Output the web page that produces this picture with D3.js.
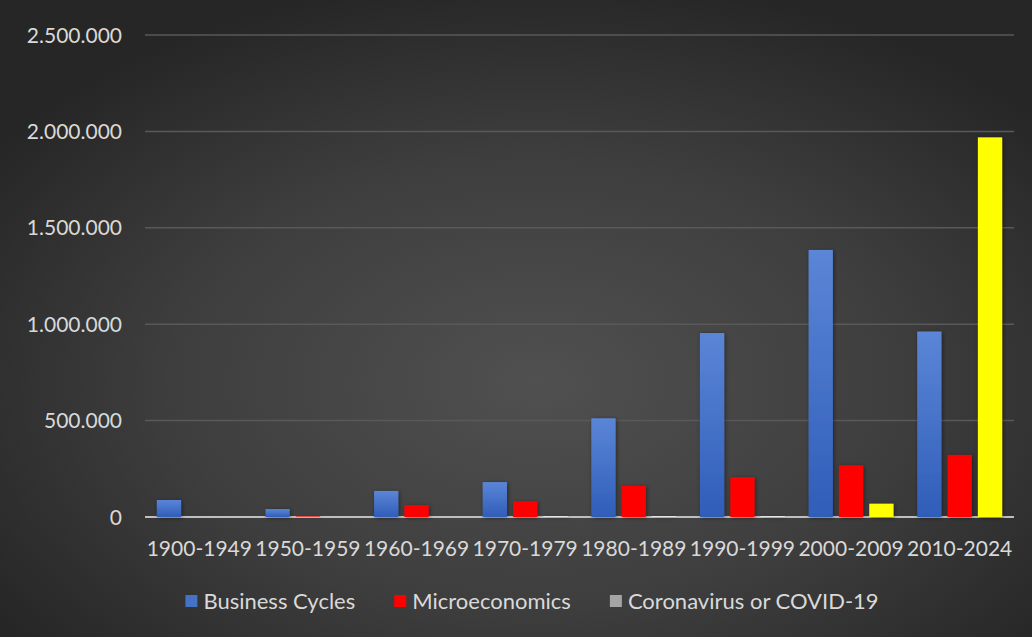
<!DOCTYPE html>
<html>
<head>
<meta charset="utf-8">
<script src="https://cdn.jsdelivr.net/npm/d3@7"></script>
<style>
  html, body { margin: 0; padding: 0; background: #262626; }
  svg { display: block; }
  text { font-family: Lato, "Open Sans", sans-serif; }
</style>
</head>
<body>
<div id="chart"></div>
<script>
const categories = ['1900-1949', '1950-1959', '1960-1969', '1970-1979', '1980-1989', '1990-1999', '2000-2009', '2010-2024'];
const seriesNames = ['Business Cycles', 'Microeconomics', 'Coronavirus or COVID-19'];
const businessCycles = [88000, 41000, 135000, 181000, 512000, 954000, 1385000, 962000];
const microeconomics = [0, 3000, 62000, 81000, 161000, 207000, 268000, 322000];
const covid = [0, 0, 0, 5000, 5000, 5000, 69000, 1969000];
const yTicks = [0, 500000, 1000000, 1500000, 2000000, 2500000];

document.addEventListener('DOMContentLoaded', () => {
  const W = 1032, H = 637;
  const svg = d3.select('#chart').append('svg').attr('width', W).attr('height', H);
  const defs = svg.append('defs');

  // ── BACKGROUND ──────────────────────────────────────────────────────────
  const bg = defs.append('radialGradient').attr('id', 'bg')
    .attr('cx', '52%').attr('cy', '60%').attr('r', '64%');
  bg.append('stop').attr('offset', '0%').attr('stop-color', '#505050');
  bg.append('stop').attr('offset', '55%').attr('stop-color', '#3e3e3e');
  bg.append('stop').attr('offset', '100%').attr('stop-color', '#262626');
  svg.append('rect').attr('width', W).attr('height', H).attr('fill', 'url(#bg)');

  const blue = defs.append('linearGradient').attr('id', 'blue')
    .attr('x1', 0).attr('y1', 0).attr('x2', 0).attr('y2', 1);
  blue.append('stop').attr('offset', '0%').attr('stop-color', '#5b86d7');
  blue.append('stop').attr('offset', '100%').attr('stop-color', '#2f5db8');

  const shadow = defs.append('filter').attr('id', 'shadow')
    .attr('x', '-30%').attr('y', '-10%').attr('width', '160%').attr('height', '120%');
  shadow.append('feDropShadow').attr('dx', 1).attr('dy', 1).attr('stdDeviation', 2)
    .attr('flood-color', '#000').attr('flood-opacity', 0.45);

  // ── SCALES ──────────────────────────────────────────────────────────────
  const x = d3.scaleBand().domain(categories).range([145, 1014]).padding(0);
  const x1 = d3.scaleBand().domain(seriesNames).range([0, x.bandwidth()])
    .paddingInner(0.2).paddingOuter(0.39);
  const y = d3.scaleLinear().domain([0, 2500000]).range([517, 35]);

  const locale = d3.formatLocale({ decimal: ',', thousands: '.', grouping: [3], currency: ['', ''] });
  const fmt = locale.format(',d');

  // gridlines
  svg.append('g').selectAll('line').data(yTicks.filter(t => t > 0)).join('line')
    .attr('x1', 145).attr('x2', 1014)
    .attr('y1', d => y(d)).attr('y2', d => y(d))
    .attr('stroke', '#595959').attr('stroke-width', 1.5);

  // y axis labels
  svg.append('g').selectAll('text').data(yTicks).join('text')
    .attr('x', 122).attr('y', d => y(d)).attr('dy', '0.36em')
    .attr('text-anchor', 'end').attr('font-size', 21).attr('fill', '#d9d9d9')
    .text(d => fmt(d));

  // baseline
  svg.append('line').attr('x1', 145).attr('x2', 1014).attr('y1', y(0)).attr('y2', y(0))
    .attr('stroke', '#bfbfbf').attr('stroke-width', 2);

  // ── BARS ────────────────────────────────────────────────────────────────
  const highlight = new Set(['2000-2009', '2010-2024']);
  const colorFor = (s, cat) => {
    if (s === seriesNames[0]) return 'url(#blue)';
    if (s === seriesNames[1]) return '#ff0000';
    return highlight.has(cat) ? '#ffff00' : '#e6e6e6';
  };
  const rows = [];
  categories.forEach((c, i) => {
    rows.push({ cat: c, s: seriesNames[0], v: businessCycles[i] });
    rows.push({ cat: c, s: seriesNames[1], v: microeconomics[i] });
    rows.push({ cat: c, s: seriesNames[2], v: covid[i] });
  });

  svg.append('g').attr('filter', 'url(#shadow)').selectAll('rect')
    .data(rows.filter(r => r.v > 0)).join('rect')
    .attr('x', d => x(d.cat) + x1(d.s))
    .attr('width', x1.bandwidth())
    .attr('y', d => y(d.v))
    .attr('height', d => y(0) - y(d.v))
    .attr('fill', d => colorFor(d.s, d.cat));

  // x labels
  svg.append('g').selectAll('text').data(categories).join('text')
    .attr('x', d => x(d) + x.bandwidth() / 2).attr('y', 556)
    .attr('text-anchor', 'middle').attr('font-size', 21).attr('fill', '#d9d9d9')
    .text(d => d);

  // ── LEGEND ──────────────────────────────────────────────────────────────
  const legendColors = ['#4472c4', '#ff0000', '#a5a5a5'];
  const lg = svg.append('g');
  const items = lg.selectAll('g').data(seriesNames).join('g');
  items.append('rect').attr('width', 12).attr('height', 12).attr('y', -6)
    .attr('fill', (d, i) => legendColors[i]);
  items.append('text').attr('x', 18).attr('y', 0).attr('dy', '0.36em')
    .attr('font-size', 22).attr('fill', '#d9d9d9').text(d => d);
  const widths = [];
  items.each(function () { widths.push(18 + this.querySelector('text').getComputedTextLength()); });
  const total = d3.sum(widths) + 39 * (widths.length - 1);
  let cx = 532 - total / 2;
  items.attr('transform', (d, i) => {
    const t = `translate(${cx},601)`;
    cx += widths[i] + 39;
    return t;
  });
});
</script>
</body>
</html>
